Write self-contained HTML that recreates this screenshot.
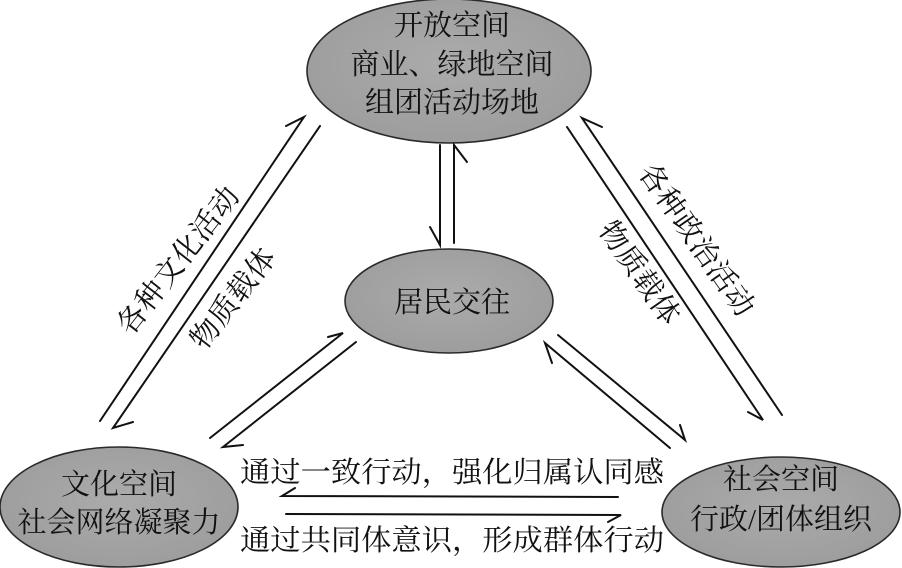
<!DOCTYPE html>
<html><head><meta charset="utf-8"><style>
html,body{margin:0;padding:0;background:#fff;}
svg{display:block;}
text{font-family:"Liberation Serif","Noto Serif CJK SC","Noto Sans CJK SC",serif;fill:#111;}
</style></head><body>
<svg width="902" height="568" viewBox="0 0 902 568" xmlns="http://www.w3.org/2000/svg">
<defs>
<radialGradient id="g" cx="50%" cy="45%" r="60%">
<stop offset="0" stop-color="#ababab"/><stop offset="1" stop-color="#9c9c9c"/>
</radialGradient>
</defs>
<g fill="url(#g)" stroke="#2a2a2a" stroke-width="1.6">
<ellipse cx="449" cy="71" rx="142" ry="72"/>
<ellipse cx="449" cy="301" rx="104" ry="52"/>
<ellipse cx="119" cy="507" rx="119" ry="60"/>
<ellipse cx="781" cy="512" rx="119" ry="55"/>
</g>
<g font-size="29" text-anchor="middle">
<text x="452" y="35">开放空间</text>
<text x="452" y="74">商业、绿地空间</text>
<text x="452" y="112">组团活动场地</text>
<text x="452" y="312">居民交往</text>
<text x="119" y="494">文化空间</text>
<text x="119" y="532">社会网络凝聚力</text>
<text x="781" y="489">社会空间</text>
<text x="781" y="529">行政/团体组织</text>
<text x="452" y="482" textLength="424" lengthAdjust="spacingAndGlyphs">通过一致行动，强化归属认同感</text>
<text x="452" y="550" textLength="424" lengthAdjust="spacingAndGlyphs">通过共同体意识，形成群体行动</text>
<g letter-spacing="0.8">
<text transform="translate(178,260) rotate(-52)" y="10">各种文化活动</text>
<text transform="translate(233,298) rotate(-52)" y="10">物质载体</text>
<text transform="translate(697,240) rotate(55)" y="10">各种政治活动</text>
<text transform="translate(640,273) rotate(55)" y="10">物质载体</text>
</g>
</g>
<g stroke="#111" stroke-width="2" fill="none" stroke-linecap="round">
<polyline points="100,421 304,117 286,126"/>
<polyline points="320,126 113,428 133,422"/>
<polyline points="440,145 440,245 430,227"/>
<polyline points="454,243 454,145 467,162"/>
<polyline points="567,127 763,420 748,412"/>
<polyline points="782,415 582,118 602,127"/>
<polyline points="210,438 343,333 328,337"/>
<polyline points="356,342 223,447 243,445"/>
<polyline points="558,335 685,440 680,425"/>
<polyline points="670,448 545,343 552,363"/>
<polyline points="618,497 282,496 295,488"/>
<polyline points="286,514 621,515 608,522"/>
</g>
</svg>
</body></html>
